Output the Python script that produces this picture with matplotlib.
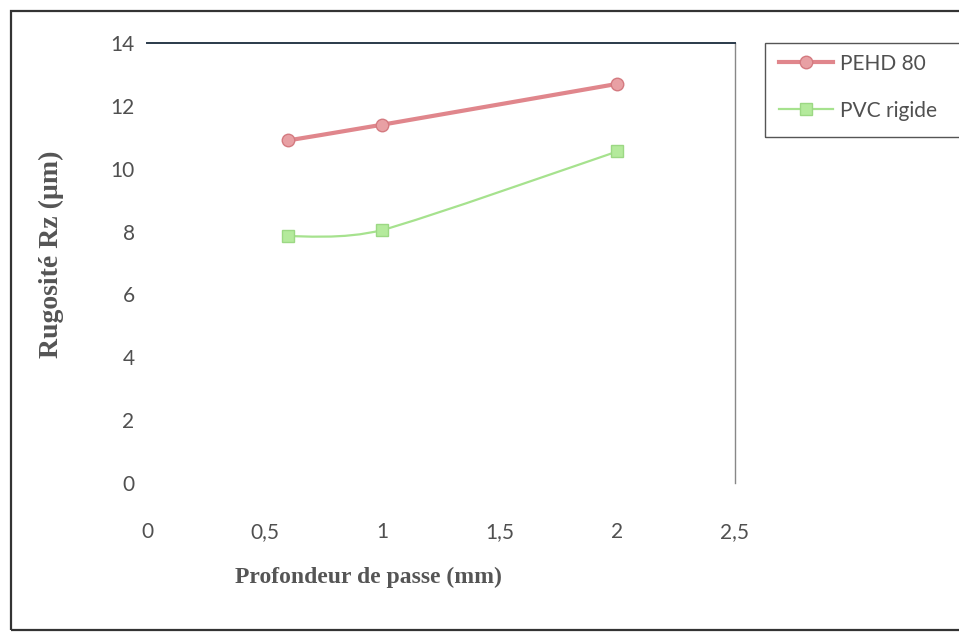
import matplotlib
matplotlib.use("Agg")
import matplotlib.pyplot as plt
import numpy as np
from matplotlib.path import Path
from matplotlib.patches import PathPatch, Rectangle
from matplotlib.lines import Line2D

# data
depth = [0.6, 1.0, 2.0]
pehd = [10.9, 11.4, 12.7]
pvc = [7.85, 8.05, 10.55]
series_names = ["PEHD 80", "PVC rigide"]

xticks = [0, 0.5, 1, 1.5, 2, 2.5]
xtick_labels = ["0", "0,5", "1", "1,5", "2", "2,5"]
yticks = [0, 2, 4, 6, 8, 10, 12, 14]

tick_font = ["Lato", "DejaVu Sans"]
title_font = ["Liberation Serif", "DejaVu Serif"]


def smooth_path(xs, ys, tension=0.12):
    # excel-like smoothed line: catmull-rom segments as cubic beziers
    pts = np.column_stack([xs, ys])
    verts = [tuple(pts[0])]
    codes = [Path.MOVETO]
    n = len(pts)
    for i in range(n - 1):
        p0 = pts[i - 1] if i > 0 else pts[i]
        p1 = pts[i]
        p2 = pts[i + 1]
        p3 = pts[i + 2] if i + 2 < n else pts[i + 1]
        c1 = p1 + (p2 - p0) * tension
        c2 = p2 - (p3 - p1) * tension
        verts += [tuple(c1), tuple(c2), tuple(p2)]
        codes += [Path.CURVE4] * 3
    return Path(verts, codes)


fig = plt.figure(figsize=(9.59, 6.35), dpi=100)
ax = fig.add_axes([0.1533, 0.2394, 0.6131, 0.6929])

# outer chart border
fig.patches.append(Rectangle((0.011, 0.008), 1.2, 0.974, transform=fig.transFigure,
                             fill=False, edgecolor="#333333", linewidth=1.6))

red = "#e0868c"
green = "#a6e28e"

ax.add_patch(PathPatch(smooth_path(depth, pehd), fill=False, edgecolor=red, linewidth=3.0))
ax.plot(depth, pehd, linestyle="none", marker="o", markersize=9,
        markerfacecolor="#e8a0a4", markeredgecolor="#d47a80")

ax.add_patch(PathPatch(smooth_path(depth, pvc), fill=False, edgecolor=green, linewidth=1.6))
ax.plot(depth, pvc, linestyle="none", marker="s", markersize=8,
        markerfacecolor="#b4ea9c", markeredgecolor="#9cd884")

ax.set_xlim(0, 2.5)
ax.set_ylim(0, 14)
ax.set_xticks(xticks)
ax.set_xticklabels(xtick_labels)
ax.set_yticks(yticks)

for lab in ax.get_xticklabels() + ax.get_yticklabels():
    lab.set_family(tick_font)
    lab.set_fontsize(15)
    lab.set_color("#505050")
ax.tick_params(axis="x", length=0, pad=28)
ax.tick_params(axis="y", length=0, pad=9)

ax.spines["left"].set_visible(False)
ax.spines["bottom"].set_visible(False)
ax.spines["top"].set_color("#2a3a4a")
ax.spines["top"].set_linewidth(1.4)
ax.spines["right"].set_color("#888888")
ax.spines["right"].set_linewidth(1.0)

fig.text(0.384, 0.091, "Profondeur de passe (mm)", family=title_font, fontsize=17,
         fontweight="bold", color="#555555", ha="center", va="center")
fig.text(0.054, 0.60, "Rugosité Rz (µm)", family=title_font, fontsize=20,
         fontweight="bold", color="#555555", ha="center", va="center", rotation=90)

# legend box
fig.patches.append(Rectangle((0.798, 0.784), 0.25, 0.148, transform=fig.transFigure,
                             fill=False, edgecolor="#555555", linewidth=1.0))
handles = [
    Line2D([], [], color=red, linewidth=3.0, marker="o", markersize=9,
           markerfacecolor="#e8a0a4", markeredgecolor="#d47a80"),
    Line2D([], [], color=green, linewidth=1.6, marker="s", markersize=8,
           markerfacecolor="#b4ea9c", markeredgecolor="#9cd884"),
]
leg = fig.legend(handles, series_names, loc="upper left", bbox_to_anchor=(0.793, 0.945),
                 frameon=False, handlelength=2.6, handletextpad=0.3, labelspacing=1.3,
                 prop={"family": tick_font, "size": 15})
for t in leg.get_texts():
    t.set_color("#505050")

fig.savefig("out.png", dpi=100)
